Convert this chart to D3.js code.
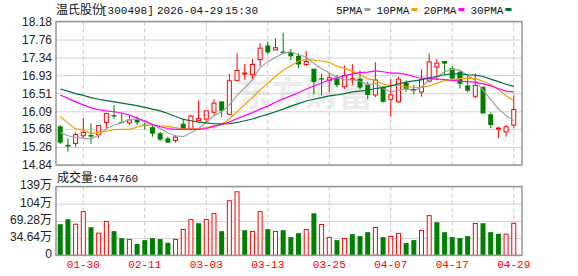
<!DOCTYPE html>
<html>
<head>
<meta charset="utf-8">
<script src="https://cdn.jsdelivr.net/npm/d3@7"></script>
<style>
body { margin: 0; background: #fff; }
</style>
</head>
<body>
<svg id="pic" width="578" height="276"></svg>
<script>
var dates = ["01-27","01-28","01-29","01-30","02-02","02-03","02-04","02-05","02-06","02-09",
  "02-10","02-11","02-12","02-13","02-24","02-25","02-26","02-27","03-02","03-03",
  "03-04","03-05","03-06","03-09","03-10","03-11","03-12","03-13","03-16","03-17",
  "03-18","03-19","03-20","03-23","03-24","03-25","03-26","03-27","03-30","03-31",
  "04-01","04-02","04-03","04-07","04-08","04-09","04-10","04-13","04-14","04-15",
  "04-16","04-17","04-20","04-21","04-22","04-23","04-24","04-27","04-28","04-29"];

var openP = [15.74,15.31,15.34,15.52,15.54,15.54,15.83,16.00,15.84,15.82,
  15.89,15.78,15.72,15.58,15.46,15.41,15.80,15.67,15.87,15.91,
  16.07,16.32,16.02,16.81,16.96,16.94,17.29,17.62,17.52,17.48,
  17.46,17.38,17.18,17.08,16.86,16.81,16.85,16.66,16.83,16.85,
  16.71,16.47,16.66,16.37,16.31,16.75,16.61,16.54,16.79,17.12,
  17.26,17.09,17.01,16.69,16.44,16.66,16.02,15.68,15.61,15.77];
var closeP = [15.36,15.27,15.55,15.60,15.50,15.76,16.04,15.97,15.83,15.89,
  15.83,15.76,15.57,15.43,15.36,15.49,15.67,15.98,15.92,16.10,
  16.28,16.10,16.80,17.04,16.98,17.18,17.56,17.46,17.57,17.45,
  17.37,17.18,17.25,16.77,16.83,16.87,16.70,16.92,16.85,16.64,
  16.47,16.82,16.31,16.47,16.84,16.60,16.56,16.83,17.24,17.21,
  17.20,16.85,16.73,16.57,16.69,16.04,15.77,15.70,15.73,16.13];
var highP = [15.77,15.46,15.60,15.93,15.81,15.76,16.04,16.23,16.04,15.98,
  15.97,15.83,15.78,15.61,15.50,15.54,15.92,16.01,16.34,16.10,
  16.37,16.32,16.96,17.44,17.19,17.31,17.68,17.71,17.79,17.92,
  17.54,17.44,17.49,17.08,16.97,16.97,16.94,17.16,17.19,17.04,
  16.77,17.23,16.67,16.84,16.89,16.81,16.71,17.06,17.43,17.31,
  17.26,17.14,17.04,16.94,16.97,16.66,16.06,15.73,15.77,16.46];
var lowP = [15.33,15.15,15.26,15.46,15.33,15.47,15.70,15.92,15.81,15.77,
  15.77,15.67,15.50,15.40,15.35,15.36,15.66,15.65,15.87,15.82,
  16.01,15.96,16.00,16.79,16.83,16.82,17.14,17.41,17.51,17.44,
  17.28,17.10,17.14,16.48,16.46,16.54,16.65,16.61,16.70,16.60,
  16.37,16.42,16.29,15.96,16.29,16.54,16.48,16.43,16.76,16.81,
  16.94,16.84,16.62,16.53,16.39,16.04,15.70,15.47,15.50,15.71];

// volume in 万 (10k lots)
var volume = [62.6,72.6,62.6,87.9,56.6,44.6,68.0,48.6,34.6,32.0,
  22.7,30.6,34.6,32.6,25.3,32.0,52.0,71.9,64.6,71.9,
  83.9,48.6,109.9,127.9,50.6,48.0,87.9,52.6,48.0,50.6,
  36.6,44.6,52.0,84.6,62.0,36.0,30.6,34.0,42.6,38.6,
  46.6,56.0,36.6,38.0,44.0,24.6,30.6,50.0,79.9,66.6,
  46.6,36.6,34.6,38.6,64.0,64.6,46.6,43.3,42.6,64.476];

var ma5 = [15.60,15.52,15.48,15.46,15.45,15.53,15.69,15.77,15.82,15.90,
  15.91,15.85,15.77,15.69,15.59,15.52,15.50,15.59,15.69,15.83,
  15.99,16.08,16.24,16.46,16.64,16.82,17.11,17.24,17.35,17.44,
  17.48,17.40,17.36,17.20,17.08,16.98,16.88,16.82,16.83,16.79,
  16.71,16.74,16.62,16.54,16.58,16.61,16.56,16.66,16.81,16.89,
  17.01,17.07,17.05,16.92,16.81,16.58,16.36,16.15,15.99,15.87];
var ma10 = [15.97,15.82,15.68,15.65,15.57,15.60,15.63,15.66,15.67,15.67,
  15.72,15.77,15.77,15.75,15.74,15.71,15.68,15.68,15.69,15.71,
  15.76,15.79,15.91,16.08,16.24,16.41,16.59,16.74,16.91,17.04,
  17.15,17.26,17.30,17.28,17.26,17.23,17.14,17.09,17.02,16.94,
  16.85,16.81,16.72,16.69,16.69,16.66,16.65,16.64,16.68,16.74,
  16.81,16.81,16.85,16.86,16.85,16.79,16.71,16.60,16.45,16.34];
var ma20 = [16.47,16.39,16.31,16.24,16.17,16.13,16.10,16.08,16.05,16.00,
  15.93,15.87,15.78,15.73,15.69,15.67,15.67,15.67,15.67,15.69,
  15.74,15.78,15.84,15.92,15.99,16.06,16.14,16.21,16.30,16.38,
  16.45,16.52,16.61,16.68,16.75,16.82,16.87,16.92,16.96,16.99,
  17.00,17.03,17.01,16.98,16.98,16.95,16.90,16.86,16.85,16.84,
  16.83,16.81,16.79,16.78,16.77,16.73,16.68,16.62,16.56,16.54];
var ma30 = [16.61,16.56,16.50,16.46,16.41,16.37,16.34,16.31,16.28,16.25,
  16.22,16.18,16.14,16.10,16.04,15.97,15.90,15.87,15.84,15.82,
  15.80,15.80,15.80,15.83,15.87,15.91,15.97,16.02,16.08,16.14,
  16.21,16.27,16.33,16.37,16.41,16.45,16.47,16.50,16.54,16.56,
  16.58,16.62,16.64,16.68,16.73,16.77,16.80,16.82,16.87,16.90,
  16.94,16.96,16.96,16.94,16.93,16.90,16.84,16.78,16.72,16.67];

var dateTicks = ["01-30","02-11","03-03","03-13","03-25","04-07","04-17","04-29"];
var priceTicks = [18.18,17.76,17.34,16.93,16.51,16.09,15.68,15.26,14.84];
var volTicks = [0,34.64,69.28,103.92,138.56];
var volTickLabels = ["0","34.64万","69.28万","104万","139万"];
var maNames = ["5PMA","10PMA","20PMA","30PMA"];
var maColors = ["#a0a0a0","#f0a000","#ff00ff","#006f33"];
var maSeries = [ma5, ma10, ma20, ma30];

var UP = "#ff0000", DOWN = "#008000";
var L = 56, R = 522;
var pTop = 21.5, pBot = 165, vTop = 186.5, vBot = 255.3;
var cnFont = "'Noto Sans CJK SC', sans-serif";
var monoFont = "'Liberation Mono', monospace";
var numFont = "'Liberation Sans', 'Noto Sans CJK SC', sans-serif";

var svg = d3.select("#pic");

var x = d3.scaleBand().domain(dates).range([56.4, 517.6]);
var cx = function(d){ return x(d) + x.bandwidth() / 2; };
var y = d3.scaleLinear().domain([14.84, 18.18]).range([pBot, pTop]);
var yv = d3.scaleLinear().domain([0, 138.56]).range([vBot, vTop]);

// watermark
svg.append("text").attr("x", 237).attr("y", 106)
  .attr("font-family", cnFont).attr("font-size", 34).attr("font-weight", "bold")
  .attr("fill", "#ececec").text("东方财富");

// horizontal grid
function grid(scale, ticks) {
  var g = svg.append("g").attr("transform", "translate(" + L + ",0)")
    .call(d3.axisRight(scale).tickValues(ticks).tickSize(R - L).tickFormat(""));
  g.select(".domain").remove();
  g.selectAll("line").attr("stroke", "#d2d2d2");
}
grid(y, priceTicks);
grid(yv, volTicks);

// vertical dashed lines
[[pTop, pBot], [vTop, vBot]].forEach(function(r){
  svg.append("g").selectAll("line").data(dateTicks).enter().append("line")
    .attr("x1", cx).attr("x2", cx).attr("y1", r[0]).attr("y2", r[1])
    .attr("stroke", "#c8c8c8").attr("stroke-dasharray", "4,3");
});

// candles
var candles = svg.append("g");
dates.forEach(function(d, i){
  var up = closeP[i] >= openP[i];
  var col = up ? UP : DOWN;
  var c = cx(d);
  candles.append("line").attr("x1", c).attr("x2", c)
    .attr("y1", y(highP[i])).attr("y2", y(lowP[i])).attr("stroke", col);
  var top = y(Math.max(openP[i], closeP[i]));
  var h = Math.max(1, Math.abs(y(openP[i]) - y(closeP[i])));
  if (up) {
    candles.append("rect").attr("x", c - 2).attr("y", top).attr("width", 4).attr("height", h)
      .attr("fill", "#fff").attr("stroke", col);
  } else {
    candles.append("rect").attr("x", c - 2.5).attr("y", top).attr("width", 5).attr("height", h)
      .attr("fill", col);
  }
});

// moving averages
maSeries.forEach(function(s, k){
  var line = d3.line().x(function(v, i){ return cx(dates[i]); }).y(function(v){ return y(v); });
  svg.append("path").attr("d", line(s)).attr("fill", "none")
    .attr("stroke", maColors[k]).attr("stroke-width", 1.2);
});

// volume bars, coloured against the previous close
var vols = svg.append("g");
dates.forEach(function(d, i){
  var prev = i > 0 ? closeP[i - 1] : openP[i];
  var up = closeP[i] >= prev;
  var c = cx(d);
  if (up) {
    vols.append("rect").attr("x", c - 2).attr("y", yv(volume[i])).attr("width", 4)
      .attr("height", vBot - yv(volume[i])).attr("fill", "#fff").attr("stroke", UP);
  } else {
    vols.append("rect").attr("x", c - 2.5).attr("y", yv(volume[i])).attr("width", 5)
      .attr("height", vBot - yv(volume[i])).attr("fill", DOWN);
  }
});

// frames
[[pTop, pBot], [vTop, vBot]].forEach(function(r){
  svg.append("rect").attr("x", L).attr("y", r[0]).attr("width", R - L).attr("height", r[1] - r[0])
    .attr("fill", "none").attr("stroke", "#999").attr("stroke-width", 1.5);
});

// axes labels
var ya = svg.append("g").attr("transform", "translate(" + (L - 1) + ",0)")
  .call(d3.axisLeft(y).tickValues(priceTicks).tickSize(0).tickPadding(3).tickFormat(d3.format(".2f")));
ya.select(".domain").remove();
ya.selectAll("text").attr("font-family", numFont).attr("font-size", 12).attr("fill", "#222");

var va = svg.append("g").attr("transform", "translate(" + (L - 1) + ",-1.5)")
  .call(d3.axisLeft(yv).tickValues(volTicks).tickSize(0).tickPadding(3)
    .tickFormat(function(d, i){ return volTickLabels[i]; }));
va.select(".domain").remove();
va.selectAll("text").attr("font-family", numFont).attr("font-size", 12).attr("fill", "#222");

var xa = svg.append("g").attr("transform", "translate(0," + vBot + ")")
  .call(d3.axisBottom(x).tickValues(dateTicks).tickSize(0).tickPadding(5));
xa.select(".domain").remove();
xa.selectAll("text").attr("font-family", monoFont).attr("font-size", 11).attr("fill", UP);

// title
var title = svg.append("g").attr("font-size", 11).attr("fill", "#111");
title.append("text").attr("x", 56).attr("y", 14).attr("font-family", cnFont).attr("font-size", 12).text("温氏股份");
title.append("text").attr("x", 101).attr("y", 14).attr("font-family", monoFont).text("[300498]");
title.append("text").attr("x", 157).attr("y", 14).attr("font-family", monoFont).text("2026-" + dates[dates.length - 1]);
title.append("text").attr("x", 225).attr("y", 14).attr("font-family", monoFont).text("15:30");

// legend
var lx = 336;
maNames.forEach(function(n, k){
  var t = svg.append("text").attr("x", lx).attr("y", 13.5).attr("font-family", monoFont)
    .attr("font-size", 11).attr("fill", "#111").text(n);
  var w = t.node().getComputedTextLength();
  svg.append("rect").attr("x", lx + w + 2).attr("y", 8).attr("width", 6).attr("height", 3)
    .attr("fill", maColors[k]);
  lx += w + 14;
});

// volume label
svg.append("text").attr("x", 57).attr("y", 182).attr("font-family", cnFont).attr("font-size", 12)
  .attr("fill", "#111").text("成交量");
svg.append("text").attr("x", 92).attr("y", 182).attr("font-family", monoFont).attr("font-size", 11)
  .attr("fill", "#111").text(":" + Math.round(volume[volume.length - 1] * 10000));
</script>
</body>
</html>
